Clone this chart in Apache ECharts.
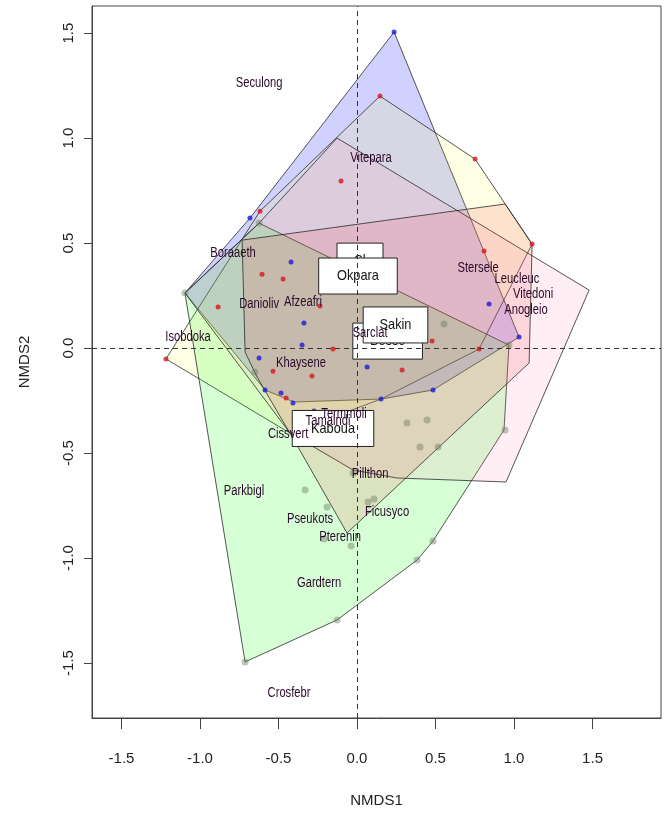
<!DOCTYPE html>
<html>
<head>
<meta charset="utf-8">
<script src="https://cdn.jsdelivr.net/npm/echarts@6/dist/echarts.min.js"></script>
<style>
html, body { margin: 0; padding: 0; background: #fff; }
#chart { width: 670px; height: 825px; }
</style>
</head>
<body>
<div id="chart"></div>
<script>
// NMDS ordination: site scores, group hulls, species labels

const axisTicks = [-1.5, -1.0, -0.5, 0.0, 0.5, 1.0, 1.5];

// site scores [NMDS1, NMDS2]
const redSites = [
    [0.146, 1.200], [-0.102, 0.795], [-0.618, 0.652], [0.752, 0.900], [1.115, 0.495],
    [0.809, 0.462], [-0.605, 0.352], [-0.471, 0.329], [-0.885, 0.195], [-0.236, 0.200],
    [-0.153, -0.005], [-1.217, -0.052], [-0.535, -0.110], [-0.287, -0.133], [-0.452, -0.238],
    [0.287, -0.105], [0.478, 0.033], [0.777, -0.005]
];
const blueSites = [
    [0.236, 1.505], [-0.682, 0.619], [-0.420, 0.410], [-0.338, 0.119], [-0.350, 0.014],
    [-0.624, -0.048], [-0.586, -0.200], [-0.484, -0.214], [-0.408, -0.262], [-0.274, -0.300],
    [0.064, -0.090], [0.153, -0.243], [0.484, -0.200], [0.841, 0.210], [1.032, 0.052]
];
const greySites = [
    [-1.096, 0.262], [-0.624, 0.595], [0.554, 0.114], [-0.650, -0.114], [0.968, 0.014],
    [0.943, -0.390], [0.318, -0.357], [0.446, -0.343], [0.401, -0.471], [0.516, -0.471],
    [-0.025, -0.595], [-0.331, -0.676], [-0.191, -0.757], [0.070, -0.733], [0.108, -0.719],
    [-0.210, -0.910], [-0.038, -0.943], [0.484, -0.919], [0.382, -1.010], [-0.127, -1.295],
    [-0.713, -1.495]
];

// convex hull vertices of the groups
const hullBlue = [
    [0.236, 1.505], [1.032, 0.052], [0.484, -0.200], [0.153, -0.243], [-0.401, -0.257],
    [-0.586, -0.200], [-1.096, 0.262], [-0.682, 0.619]
];
const hullYellow = [
    [-1.217, -0.052], [-0.618, 0.652], [0.146, 1.200], [0.752, 0.900], [1.115, 0.495],
    [0.777, -0.005], [0.153, -0.243], [-0.427, -0.405]
];
const hullGreen = [
    [-1.096, 0.262], [-0.624, 0.595], [0.968, 0.014], [0.936, -0.390], [0.484, -0.919],
    [0.382, -1.010], [-0.127, -1.295], [-0.713, -1.495]
];
const hullLightPink = [
    [-1.096, 0.262], [-0.624, 0.595], [-0.127, 1.000], [1.478, 0.276], [0.949, -0.638],
    [0.255, -0.619], [-0.025, -0.581], [-0.427, -0.405]
];
const hullRed = [
    [-0.732, 0.514], [0.943, 0.686], [1.115, 0.495], [1.096, -0.071], [-0.064, -0.881],
    [-0.376, -0.471], [-0.637, -0.138], [-0.713, -0.019]
];

const hulls = [hullBlue, hullYellow, hullGreen, hullLightPink, hullRed];
const hullFills = [
    'rgba(0,0,255,0.18)',
    'rgba(255,255,0,0.10)',
    'rgba(0,255,0,0.16)',
    'rgba(255,140,180,0.14)',
    'rgba(240,50,60,0.14)'
];

// species scores
const speciesNames = [
    'Seculong', 'Vitepara', 'Boraaeth', 'Danioliv', 'Afzeafri', 'Isobdoka', 'Khaysene',
    'Sarclat', 'Stersele', 'Leucleuc', 'Vitedoni', 'Anogleio', 'Termmoli', 'Tamaindi',
    'Cissvert', 'Pillthon', 'Parkbigl', 'Pseukots', 'Ficusyco', 'Pterenin', 'Gardtern', 'Crosfebr'
];
const speciesXY = [
    [-0.624, 1.262], [0.089, 0.905], [-0.790, 0.452], [-0.624, 0.210], [-0.344, 0.219],
    [-1.076, 0.052], [-0.357, -0.071], [0.083, 0.071], [0.771, 0.381], [1.019, 0.329],
    [1.121, 0.257], [1.076, 0.181], [-0.083, -0.314], [-0.185, -0.348], [-0.439, -0.410],
    [0.083, -0.600], [-0.720, -0.681], [-0.299, -0.814], [0.191, -0.781], [-0.108, -0.900],
    [-0.242, -1.119], [-0.433, -1.643]
];

// group centroid labels (drawn in this order)
const groupNames = ['Sl', 'Okpara', 'Besse', 'Sakin', 'Kaboua'];
const groupXY = [
    [0.019, 0.414], [0.006, 0.343], [0.195, 0.033], [0.245, 0.110], [-0.153, -0.383]
];

const boxFont = '15px "Liberation Sans", Arial, sans-serif';
const squeeze = 0.85; // R text here is a bit narrow
const measureCtx = document.createElement('canvas').getContext('2d');
measureCtx.font = boxFont;

const chart = echarts.init(document.getElementById('chart'));

const fmt = v => v.toFixed(1);

const option = {
    animation: false,
    grid: {
        left: 92, right: 9, top: 6, bottom: 107,
        show: true, borderColor: '#444', borderWidth: 1, backgroundColor: 'transparent'
    },
    xAxis: {
        type: 'value',
        min: -1.688, max: 1.936,
        name: 'NMDS1', nameLocation: 'middle', nameGap: 75,
        nameTextStyle: { fontSize: 15, color: '#222', fontFamily: 'Liberation Sans' },
        axisLine: { show: true, onZero: false, lineStyle: { color: '#444' } },
        axisTick: { show: true, length: 11, customValues: axisTicks, lineStyle: { color: '#444' } },
        axisLabel: { customValues: axisTicks, formatter: fmt, margin: 33, fontSize: 15, color: '#222', fontFamily: 'Liberation Sans' },
        splitLine: { show: false }
    },
    yAxis: {
        type: 'value',
        min: -1.762, max: 1.629,
        name: 'NMDS2', nameLocation: 'middle', nameGap: 60,
        nameTextStyle: { fontSize: 15, color: '#222', fontFamily: 'Liberation Sans' },
        axisLine: { show: true, onZero: false, lineStyle: { color: '#444' } },
        axisTick: { show: true, length: 8, customValues: axisTicks, lineStyle: { color: '#444' } },
        axisLabel: { customValues: axisTicks, formatter: fmt, rotate: 90, margin: 16, fontSize: 15, color: '#222', fontFamily: 'Liberation Sans' },
        splitLine: { show: false }
    },
    series: [
        {
            // hulls
            type: 'custom',
            z: 1,
            silent: true,
            data: hulls.map((h, i) => [h[0][0], h[0][1], i]),
            encode: { x: 0, y: 1 },
            renderItem: (params, api) => {
                const i = api.value(2);
                const pts = hulls[i].map(p => api.coord(p));
                return {
                    type: 'polygon',
                    shape: { points: pts },
                    style: { fill: hullFills[i], stroke: '#2b2b2b', lineWidth: 0.8 }
                };
            }
        },
        {
            type: 'scatter', z: 3, silent: true,
            data: greySites, symbolSize: 7,
            itemStyle: { color: 'rgba(105,120,95,0.55)' }
        },
        {
            type: 'scatter', z: 3, silent: true,
            data: redSites, symbolSize: 5,
            itemStyle: { color: '#d81822' }
        },
        {
            type: 'scatter', z: 3, silent: true,
            data: blueSites, symbolSize: 5,
            itemStyle: { color: '#1c1cd8' }
        },
        {
            // group labels in white boxes
            type: 'custom',
            z: 4,
            silent: true,
            data: groupXY.map((p, i) => [p[0], p[1], i]),
            encode: { x: 0, y: 1 },
            renderItem: (params, api) => {
                const i = api.value(2);
                const c = api.coord([api.value(0), api.value(1)]);
                const name = groupNames[i];
                const tw = measureCtx.measureText(name).width * squeeze;
                const w = Math.max(46, tw * 1.4 + 20);
                const h = 36;
                return {
                    type: 'group',
                    children: [
                        {
                            type: 'rect',
                            shape: { x: c[0] - w / 2, y: c[1] - h / 2, width: w, height: h },
                            style: { fill: '#fff', stroke: '#222', lineWidth: 1 }
                        },
                        {
                            type: 'text',
                            x: c[0], y: c[1],
                            scaleX: squeeze,
                            style: {
                                text: name, font: boxFont, fill: '#111',
                                align: 'center', verticalAlign: 'middle',
                                textAlign: 'center', textVerticalAlign: 'middle'
                            }
                        }
                    ]
                };
            }
        },
        {
            // species names
            type: 'custom',
            z: 6,
            silent: true,
            data: speciesXY.map((p, i) => [p[0], p[1], i]),
            encode: { x: 0, y: 1 },
            renderItem: (params, api) => {
                const i = api.value(2);
                const c = api.coord([api.value(0), api.value(1)]);
                return {
                    type: 'text',
                    x: c[0], y: c[1],
                    scaleX: 0.8,
                    style: {
                        text: speciesNames[i],
                        font: '14px "Liberation Sans", Arial, sans-serif',
                        fill: '#2a0a2a',
                        align: 'center', verticalAlign: 'middle',
                        textAlign: 'center', textVerticalAlign: 'middle'
                    }
                };
            }
        },
        {
            // dashed zero lines
            type: 'line',
            z: 8,
            data: [],
            markLine: {
                silent: true,
                symbol: ['none', 'none'],
                label: { show: false },
                lineStyle: { type: [5, 4], color: '#333', width: 1 },
                data: [{ xAxis: 0 }, { yAxis: 0 }]
            }
        }
    ]
};

chart.setOption(option);
</script>
</body>
</html>
